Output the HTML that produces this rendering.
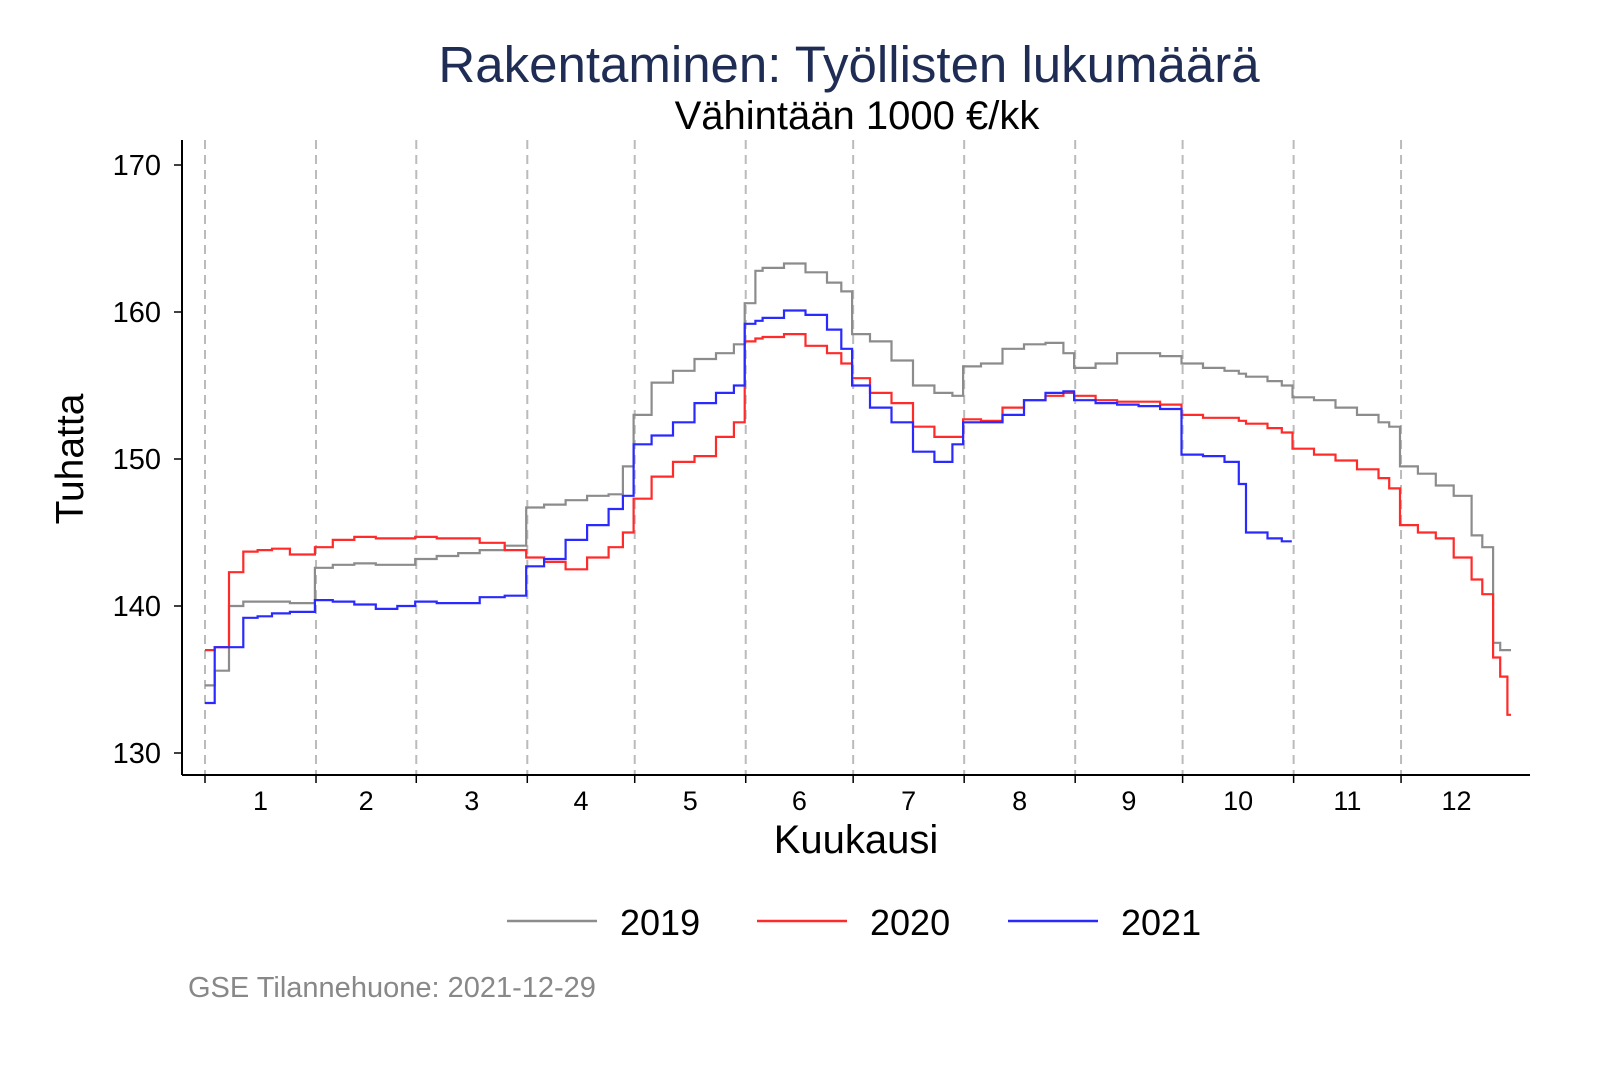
<!DOCTYPE html>
<html><head><meta charset="utf-8"><style>
body{margin:0;background:#fff;}
svg{display:block;font-family:"Liberation Sans",Arial,sans-serif;}
</style></head><body>
<svg id="chart" width="1600" height="1067" viewBox="0 0 1600 1067">
<rect width="1600" height="1067" fill="#fff"/>
<text x="849" y="82" text-anchor="middle" font-size="51" fill="#1f2d55">Rakentaminen: Työllisten lukumäärä</text>
<text x="857" y="129" text-anchor="middle" font-size="40" fill="#000">Vähintään 1000 €/kk</text>
<g id="grid"></g>
<g id="axes"></g>
<g id="series"></g>
<text x="856" y="853" text-anchor="middle" font-size="40">Kuukausi</text>
<text transform="translate(83,459) rotate(-90)" text-anchor="middle" font-size="39">Tuhatta</text>
<g id="legend"></g>
<text x="188" y="997" font-size="29" fill="#888">GSE Tilannehuone: 2021-12-29</text>
</svg>
<script>
const days=[1,4,8,12,16,20,25,32,37,43,49,55,60,66,72,78,85,91,96,102,108,114,118,121,126,132,138,144,149,152,155,157,163,169,175,179,182,187,193,199,205,210,213,218,224,230,236,241,244,250,256,262,268,274,280,286,290,292,298,302,305,311,317,323,329,332,335,340,345,350,355,358,361,363,365];
const s2019=[134.6,135.6,140.0,140.3,140.3,140.3,140.2,142.6,142.8,142.9,142.8,142.8,143.2,143.4,143.6,143.8,144.1,146.7,146.9,147.2,147.5,147.6,149.5,153.0,155.2,156.0,156.8,157.2,157.8,160.6,162.8,163.0,163.3,162.7,162.0,161.4,158.5,158.0,156.7,155.0,154.5,154.3,156.3,156.5,157.5,157.8,157.9,157.2,156.2,156.5,157.2,157.2,157.0,156.5,156.2,156.0,155.8,155.6,155.3,155.0,154.2,154.0,153.5,153.0,152.5,152.2,149.5,149.0,148.2,147.5,144.8,144.0,137.5,137.0,137.0];
const s2020=[137.0,137.2,142.3,143.7,143.8,143.9,143.5,144.0,144.5,144.7,144.6,144.6,144.7,144.6,144.6,144.3,143.8,143.3,143.0,142.5,143.3,144.0,145.0,147.3,148.8,149.8,150.2,151.5,152.5,158.0,158.2,158.3,158.5,157.7,157.2,156.5,155.5,154.5,153.8,152.2,151.5,151.5,152.7,152.6,153.5,154.0,154.3,154.5,154.3,154.0,153.9,153.9,153.7,153.0,152.8,152.8,152.6,152.4,152.1,151.8,150.7,150.3,149.9,149.3,148.7,148.0,145.5,145.0,144.6,143.3,141.8,140.8,136.5,135.2,132.6];
const s2021=[133.4,137.2,137.2,139.2,139.3,139.5,139.6,140.4,140.3,140.1,139.8,140.0,140.3,140.2,140.2,140.6,140.7,142.7,143.2,144.5,145.5,146.6,147.5,151.0,151.6,152.5,153.8,154.5,155.0,159.2,159.4,159.6,160.1,159.8,158.8,157.5,155.0,153.5,152.5,150.5,149.8,151.0,152.5,152.5,153.0,154.0,154.5,154.6,154.0,153.8,153.7,153.6,153.4,150.3,150.2,149.8,148.3,145.0,144.6,144.4,null,null,null,null,null,null,null,null,null,null,null,null,null,null,null];
const yTicks=[130,140,150,160,170];
const monthStarts=[1,32,60,91,121,152,182,213,244,274,305,335,366];
const monthLabels=["1","2","3","4","5","6","7","8","9","10","11","12"];
const seriesNames=["2019","2020","2021"];
const seriesColors=["#8c8c8c","#ff2a2a","#2a2aff"];

const NS="http://www.w3.org/2000/svg";
const X=d=>205+(d-1)*3.581;
const Y=v=>753-(v-130)*14.7;
function mk(tag,attrs,parent){const e=document.createElementNS(NS,tag);for(const k in attrs)e.setAttribute(k,attrs[k]);parent.appendChild(e);return e;}
const grid=document.getElementById('grid'),axes=document.getElementById('axes'),ser=document.getElementById('series'),leg=document.getElementById('legend');
monthStarts.slice(0,12).forEach((d,i)=>{
  const l=mk('line',{x1:X(d),x2:X(d),y1:140,y2:775,stroke:'#bbb','stroke-width':2,'stroke-dasharray':'9,6'},grid);
  
  
  const t=mk('line',{x1:X(d),x2:X(d),y1:775,y2:783,stroke:'#000','stroke-width':1.5},axes);
  
  
  const lb=mk('text',{x:(X(d)+X(monthStarts[i+1]))/2,y:810,'text-anchor':'middle','font-size':27},axes);
  lb.textContent=monthLabels[i];
  
  
});
mk('line',{x1:182,x2:182,y1:140,y2:775,stroke:'#000','stroke-width':2},axes);
mk('line',{x1:182,x2:1530,y1:775,y2:775,stroke:'#000','stroke-width':2},axes);
yTicks.forEach(v=>{
  const t=mk('line',{x1:174,x2:182,y1:Y(v),y2:Y(v),stroke:'#000','stroke-width':1.5},axes);
  
  
  const lb=mk('text',{x:161,y:Y(v)+10,'text-anchor':'end','font-size':29},axes);
  lb.textContent=v;
  
  
});
[s2019,s2020,s2021].forEach((vals,si)=>{
  let d='',prev=null;
  for(let i=0;i<days.length;i++){
    const v=vals[i];if(v==null)break;
    const nx=(i+1<days.length)?days[i+1]:366;
    const endX=(i+1<days.length&&vals[i+1]==null)?X(days[i]+2.5):X(nx-0.3);
    if(prev==null)d+='M'+X(days[i]).toFixed(1)+','+Y(v).toFixed(1);
    else d+='V'+Y(v).toFixed(1);
    d+='H'+endX.toFixed(1);
    prev=v;
  }
  const p=mk('path',{d:d,fill:'none',stroke:seriesColors[si],'stroke-width':2.2},ser);
  
  
});
const legX=[507,757,1008];
seriesNames.forEach((n,i)=>{
  const g=mk('g',{},leg);
  
  
  mk('line',{x1:legX[i],x2:legX[i]+90,y1:921,y2:921,stroke:seriesColors[i],'stroke-width':2.5},g);
  const t=mk('text',{x:legX[i]+113,y:935,'font-size':36},g);
  t.textContent=n;
});
</script>
</body></html>
